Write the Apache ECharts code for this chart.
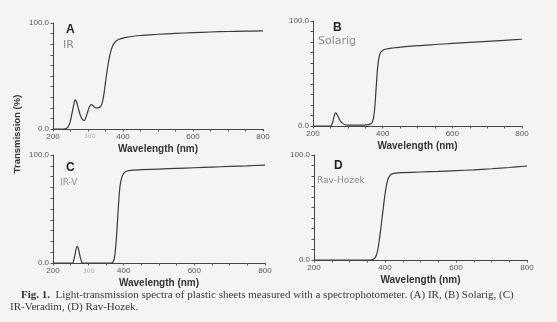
<!DOCTYPE html>
<html>
<head>
<meta charset="utf-8">
<script src="https://cdn.jsdelivr.net/npm/echarts@6/dist/echarts.min.js"></script>
<style>
  html, body { margin: 0; padding: 0; background: #f4f4f2; }
  #chart { width: 557px; height: 322px; }
</style>
</head>
<body>
<div id="chart"></div>
<script>
// Light-transmission spectra (wavelength in nm, transmission in %)
var irWl  = [200, 230, 238, 245, 250, 255, 260, 263, 267, 272, 278, 284, 289, 294, 299, 304, 310, 316, 322, 328, 335, 340, 345, 350, 355, 360, 365, 370, 375, 382, 390, 400, 410, 430, 450, 475, 500, 550, 600, 650, 700, 750, 800];
var irT   = [0, 0, 0.5, 3, 8, 16, 24, 27.5, 26, 20, 13, 9, 8, 11, 16, 21, 23, 21.5, 20, 20, 21, 24, 32, 44, 56, 66, 73, 78, 81, 83.5, 84.8, 85.8, 86.5, 87.5, 88.2, 88.8, 89.4, 90.2, 90.9, 91.5, 92, 92.3, 92.5];

var solWl = [200, 250, 255, 259, 262, 265, 268, 272, 278, 285, 292, 300, 330, 355, 365, 370, 374, 378, 382, 386, 390, 394, 400, 410, 430, 450, 500, 550, 600, 650, 700, 750, 800];
var solT  = [0, 0, 2, 7, 11, 12.5, 11.5, 9, 5, 2.5, 1.2, 0.8, 0.8, 1, 1.8, 3.5, 8, 20, 40, 57, 66, 70, 72, 73.3, 74.3, 75, 76.5, 77.6, 78.6, 79.6, 80.6, 81.6, 82.6];

var irvWl = [200, 255, 259, 263, 266, 269, 272, 276, 280, 284, 300, 365, 370, 374, 378, 382, 386, 390, 395, 400, 406, 415, 430, 450, 500, 550, 600, 650, 700, 750, 800];
var irvT  = [0, 0, 3, 9, 14, 15.5, 13, 7, 2, 0, 0, 0, 1, 5, 17, 36, 57, 72, 79.5, 83, 84.8, 85.6, 86, 86.4, 87, 87.6, 88.2, 88.8, 89.4, 90, 90.7];

var ravWl = [200, 360, 366, 372, 378, 384, 390, 396, 402, 408, 414, 420, 430, 450, 500, 550, 600, 650, 700, 750, 800];
var ravT  = [0, 0, 0.6, 2, 7, 19, 35, 52, 67, 76.5, 80.5, 82, 82.8, 83.2, 83.8, 84.4, 85.1, 85.9, 86.9, 88.1, 89.5];

// Axis ticks and labels
var xLabels = [200, 400, 600, 800];
var yLabels = { 0: '0.0', 100: '100.0' };
var panelLetters = ['A', 'B', 'C', 'D'];
var panelNotes = ['IR', 'Solarig', 'IR-V', 'Rav-Hozek'];

function pairs(xs, ys) {
  return xs.map(function (x, i) { return [x, ys[i]]; });
}

var grids = [
  { left: 53,  top: 23,  width: 210, height: 106 },
  { left: 313, top: 21,  width: 209, height: 105 },
  { left: 53,  top: 155, width: 212, height: 108 },
  { left: 314, top: 155, width: 213, height: 105 }
];

var ink = '#3a3a3a';

var xAxes = grids.map(function (g, i) {
  return {
    type: 'value', gridIndex: i, min: 200, max: 800, interval: 50,
    name: 'Wavelength (nm)', nameLocation: 'middle', nameGap: 15,
    nameTextStyle: { fontFamily: 'Liberation Sans', fontWeight: 'bold', fontSize: 10, color: '#333' },
    axisLine: { lineStyle: { color: '#444', width: 1 } },
    axisTick: { length: 2.5, lineStyle: { color: '#555' } },
    axisLabel: {
      margin: 4, fontSize: 8, color: '#555', fontFamily: 'Liberation Sans',
      formatter: function (v) { return xLabels.indexOf(v) >= 0 ? String(v) : ''; }
    },
    splitLine: { show: false }
  };
});

var yAxes = grids.map(function (g, i) {
  return {
    type: 'value', gridIndex: i, min: 0, max: 100, interval: 10,
    axisLine: { show: true, lineStyle: { color: '#444', width: 1 } },
    axisTick: { show: true, length: 2.5, lineStyle: { color: '#555' } },
    axisLabel: {
      margin: 4, fontSize: 8, color: '#555', fontFamily: 'Liberation Sans',
      formatter: function (v) { return yLabels[v] || ''; }
    },
    splitLine: { show: false }
  };
});

var curves = [pairs(irWl, irT), pairs(solWl, solT), pairs(irvWl, irvT), pairs(ravWl, ravT)];
var series = curves.map(function (d, i) {
  return {
    type: 'line', xAxisIndex: i, yAxisIndex: i, data: d,
    showSymbol: false, smooth: 0.35, silent: true,
    lineStyle: { color: ink, width: 1.2 }
  };
});

// Panel letters, handwritten notes and titles
var letterPos = [[66, 24], [333, 22], [66, 162], [334, 160]];
var notePos = [[63, 40], [318, 36], [60, 178], [317, 176]];
var noteSize = [11, 11, 9, 9];
var graphics = [];
letterPos.forEach(function (p, i) {
  graphics.push({
    type: 'text', left: p[0], top: p[1],
    style: { text: panelLetters[i], font: 'bold 12px "Liberation Sans"', fill: '#222' }
  });
  graphics.push({
    type: 'text', left: notePos[i][0], top: notePos[i][1],
    style: { text: panelNotes[i], font: noteSize[i] + 'px "DejaVu Sans"', fill: '#8c8c8c' }
  });
});
// small pencil marks below the 300 nm tick
graphics.push({ type: 'text', left: 84, top: 133, style: { text: '300', font: '6px "DejaVu Sans"', fill: '#b0b0b0' } });
graphics.push({ type: 'text', left: 83, top: 268, style: { text: '300', font: '6px "DejaVu Sans"', fill: '#b0b0b0' } });
// shared y-axis title
graphics.push({
  type: 'text', x: 17, y: 134, rotation: Math.PI / 2,
  style: { text: 'Transmission (%)', font: 'bold 9.5px "Liberation Sans"', fill: '#333',
           textAlign: 'center', textVerticalAlign: 'middle' }
});
// caption
graphics.push({
  type: 'text', left: 21, top: 290,
  style: {
    rich: {
      b: { font: 'bold 11px "Liberation Serif"', fill: '#333' },
      n: { font: '11px "Liberation Serif"', fill: '#3a3a3a' }
    },
    text: '{b|Fig. 1.}{n|  Light-transmission spectra of plastic sheets measured with a spectrophotometer. (A) IR, (B) Solarig, (C)}'
  }
});
graphics.push({
  type: 'text', left: 10, top: 302,
  style: { text: 'IR-Veradim, (D) Rav-Hozek.', font: '11px "Liberation Serif"', fill: '#3a3a3a' }
});

var chart = echarts.init(document.getElementById('chart'), null, { renderer: 'canvas' });
chart.setOption({
  backgroundColor: '#f4f4f2',
  animation: false,
  grid: grids,
  xAxis: xAxes,
  yAxis: yAxes,
  series: series,
  graphic: graphics
});
</script>
</body>
</html>
